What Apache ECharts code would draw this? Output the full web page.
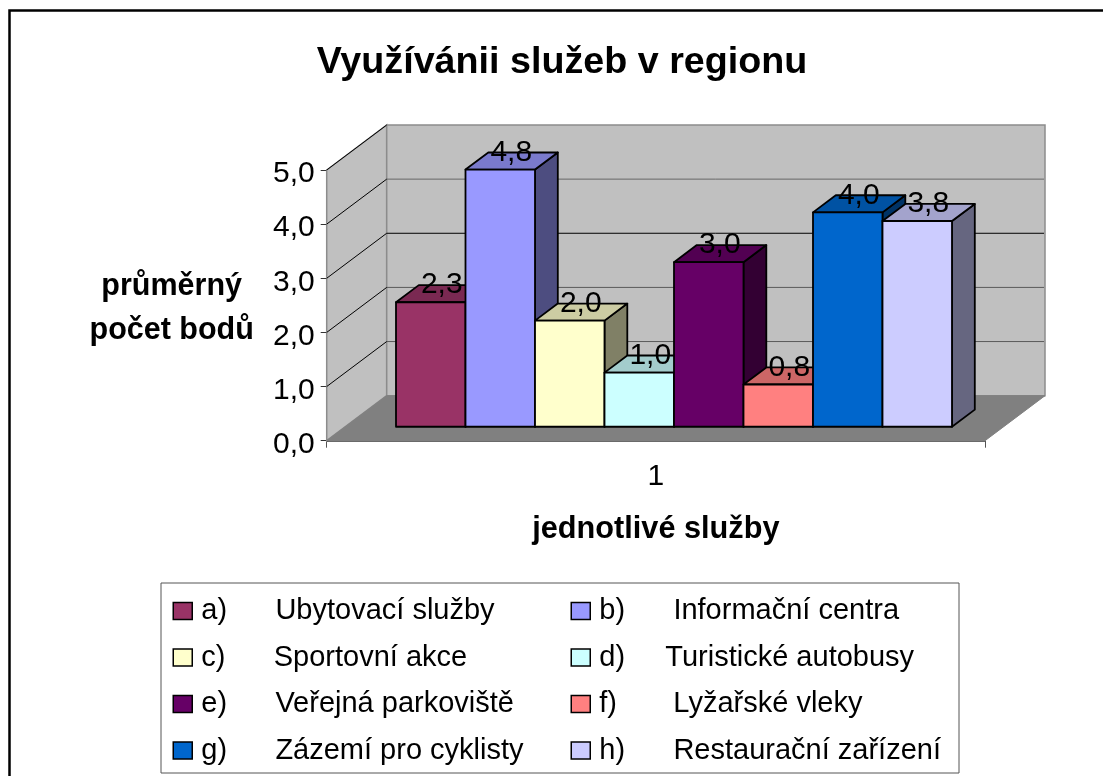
<!DOCTYPE html>
<html><head><meta charset="utf-8">
<style>html,body{margin:0;padding:0;background:#fff}#c{width:1103px;height:776px}</style>
<script src="https://cdn.jsdelivr.net/npm/echarts@6/dist/echarts.min.js"></script>
</head><body><div id="c"></div>
<script>
const categories = ['1'];
const seriesNames = [
  'a)      Ubytovací služby','b)      Informační centra',
  'c)      Sportovní akce','d)     Turistické autobusy',
  'e)      Veřejná parkoviště','f)       Lyžařské vleky',
  'g)      Zázemí pro cyklisty','h)      Restaurační zařízení'];
const seriesValues = [2.3, 4.75, 1.96, 1.0, 3.04, 0.78, 3.96, 3.8];
const seriesColors = ['#993366','#9999ff','#ffffcc','#ccffff','#660066','#ff8080','#0066cc','#ccccff'];
const yTicks = [0,1,2,3,4,5];
const gridLineColors = {1:'#5a5a5a',2:'#5a5a5a',3:'#000000',4:'#666666'};

const FONT = '"Liberation Sans", Arial, sans-serif';
const G = {left:326.7, top:170, width:658.3, height:270.7};
const WALL = {dx:60, dy:45};
const BAR = {front:0.31, back:0.69, gap:50.7, width:69.5};

function shade(hex,k){
  const n=parseInt(hex.slice(1),16);
  const c=[n>>16&255,n>>8&255,n&255].map(v=>Math.round(v*k));
  return 'rgb('+c.join(',')+')';
}
function backdrop(params,api){
  const cs=params.coordSys, L=cs.x, R=cs.x+cs.width;
  const y0=api.coord([0,0])[1], yT=api.coord([0,5])[1];
  const d=WALL, kids=[];
  const line=(a,b,c,w)=>kids.push({type:'line',shape:{x1:a[0],y1:a[1],x2:b[0],y2:b[1]},style:{stroke:c,lineWidth:w}});
  kids.push({type:'polygon',shape:{points:[[L,y0],[L+d.dx,y0-d.dy],[L+d.dx,yT-d.dy],[L,yT]]},style:{fill:'#c0c0c0',stroke:'#8c8c8c',lineWidth:1.5}});
  kids.push({type:'polygon',shape:{points:[[L+d.dx,y0-d.dy],[R+d.dx,y0-d.dy],[R+d.dx,yT-d.dy],[L+d.dx,yT-d.dy]]},style:{fill:'#c0c0c0',stroke:'#8c8c8c',lineWidth:1.5}});
  kids.push({type:'polygon',shape:{points:[[L,y0],[R,y0],[R+d.dx,y0-d.dy],[L+d.dx,y0-d.dy]]},style:{fill:'#808080',stroke:'#808080',lineWidth:1}});
  yTicks.slice(1).forEach(v=>{
    const y=api.coord([0,v])[1];
    if(v<5) line([L+d.dx,y-d.dy],[R+d.dx-1,y-d.dy],gridLineColors[v],1);
    line([L,y],[L+d.dx,y-d.dy],'#000',1);
  });
  return {type:'group',children:kids};
}
function barItem(i){
  return function(params,api){
    const cs=params.coordSys, y0=api.coord([0,0])[1];
    const fdx=WALL.dx*BAR.front, fdy=WALL.dy*BAR.front;
    const bdx=WALL.dx*(BAR.back-BAR.front), bdy=WALL.dy*(BAR.back-BAR.front);
    const x1=cs.x+fdx+BAR.gap+i*BAR.width, x2=x1+BAR.width;
    const v=api.value(1);
    const yb=y0-fdy, yt=api.coord([0,v])[1]-fdy;
    const c=seriesColors[i];
    const st=(f)=>({fill:f,stroke:'#000',lineWidth:1.8,lineJoin:'round'});
    return {type:'group',children:[
      {type:'polygon',shape:{points:[[x2,yb],[x2+bdx,yb-bdy],[x2+bdx,yt-bdy],[x2,yt]]},style:st(shade(c,0.5))},
      {type:'polygon',shape:{points:[[x1,yt],[x2,yt],[x2+bdx,yt-bdy],[x1+bdx,yt-bdy]]},style:st(shade(c,0.8))},
      {type:'rect',shape:{x:x1,y:yt,width:BAR.width,height:yb-yt},style:st(c)},
      {type:'text',z2:100,style:{text:v.toFixed(1).replace('.',','),x:(x1+x2)/2+11,y:yt-17,align:'center',verticalAlign:'middle',fill:'#000',font:'30px '+FONT}}
    ]};
  };
}
const series=[{type:'custom',name:'backdrop',silent:true,z:1,renderItem:backdrop,data:[[0,0]],encode:{x:0,y:1}}];
seriesNames.forEach((n,i)=>series.push({
  type:'custom',name:n,z:2,itemStyle:{color:seriesColors[i]},renderItem:barItem(i),
  encode:{x:0,y:1},data:[[0,seriesValues[i]]]
}));
const legendCommon={orient:'vertical',icon:'rect',itemWidth:19,itemHeight:17,itemGap:16.5,
  selectedMode:false,itemStyle:{borderColor:'#000',borderWidth:1.5},
  textStyle:{fontFamily:FONT,fontSize:29,color:'#000',lineHeight:30,padding:[0,0,0,4]},padding:0};
const chart=echarts.init(document.getElementById('c'),null,{renderer:'canvas'});
chart.setOption({
  animation:false,backgroundColor:'#fff',
  title:{text:'Využívánii služeb v regionu',left:557,top:39,textAlign:'center',
    textStyle:{fontFamily:FONT,fontSize:37.7,fontWeight:'bold',color:'#000'}},
  grid:{left:G.left,top:G.top,width:G.width,height:G.height},
  xAxis:{type:'category',data:categories,
    axisLine:{lineStyle:{color:'#333',width:1.5}},
    axisTick:{show:true,length:7,lineStyle:{color:'#555'}},
    axisLabel:{fontFamily:FONT,fontSize:30,color:'#000',margin:21},
    name:'jednotlivé služby',nameLocation:'middle',nameGap:73,
    nameTextStyle:{fontFamily:FONT,fontSize:30.7,fontWeight:'bold',color:'#000'}},
  yAxis:{type:'value',min:0,max:5,interval:1,
    axisLine:{show:true,lineStyle:{color:'#8c8c8c',width:2}},
    axisTick:{show:true,length:6,lineStyle:{color:'#333'}},
    splitLine:{show:false},
    axisLabel:{fontFamily:FONT,fontSize:30,color:'#000',margin:12,verticalAlign:'top',lineHeight:8,formatter:v=>v.toFixed(1).replace('.',',')},
    name:'{s| }\n{n|průměrný}\n{n|počet bodů}',nameLocation:'middle',nameGap:155,nameRotate:0,
    nameTextStyle:{align:'center',verticalAlign:'middle',rich:{
      s:{fontSize:1,lineHeight:7},
      n:{fontFamily:FONT,fontSize:30.5,fontWeight:'bold',color:'#000',lineHeight:44}}}},
  legend:[
    Object.assign({},legendCommon,{left:172.5,top:596,data:seriesNames.filter((_,i)=>i%2===0)}),
    Object.assign({},legendCommon,{left:570.5,top:596,data:seriesNames.filter((_,i)=>i%2===1)})
  ],
  graphic:[
    {type:'polyline',silent:true,z:0,shape:{points:[[9.5,776],[9.5,10.5],[1103,10.5]]},style:{fill:null,stroke:'#000',lineWidth:2.5}},
    {type:'rect',silent:true,z:0,shape:{x:161,y:583,width:798,height:190},style:{fill:'#fff',stroke:'#555',lineWidth:1}}
  ],
  series
});
</script></body></html>
